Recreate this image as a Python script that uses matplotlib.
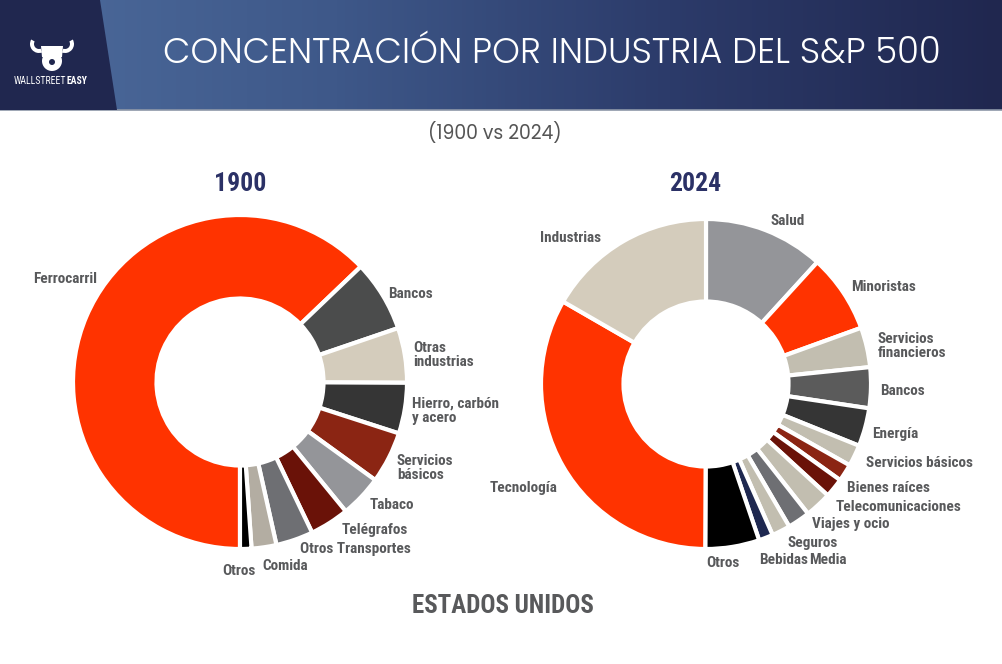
import numpy as np
import matplotlib
matplotlib.use("Agg")
import matplotlib.pyplot as plt
from matplotlib.patches import Polygon, Circle, Wedge
from matplotlib.colors import LinearSegmentedColormap

# ---------------- data ----------------
labels_1900 = ["Ferrocarril", "Bancos", "Otras\nindustrias", "Hierro, carbón\ny acero",
               "Servicios\nbásicos", "Tabaco", "Telégrafos", "Otros Transportes",
               "Comida", "Otros"]
values_1900 = [62.8, 6.9, 5.3, 4.9, 5.0, 4.1, 3.8, 3.6, 2.4, 1.1]

labels_2024 = ["Salud", "Minoristas", "Servicios\nfinancieros", "Bancos", "Energía",
               "Servicios básicos", "Bienes raíces", "Telecomunicaciones",
               "Viajes y ocio", "Seguros", "Bebidas", "Media", "Otros",
               "Tecnología", "Industrias"]
values_2024 = [11.8, 7.7, 3.9, 4.0, 3.75, 2.1, 1.7, 1.9, 2.6, 2.2, 1.8, 1.4, 5.3, 33.3, 16.7]

title = "CONCENTRACIÓN POR INDUSTRIA DEL S&P 500"
subtitle = "(1900 vs 2024)"
footer = "ESTADOS UNIDOS"
years = ["1900", "2024"]

# ---------------- styles ----------------
RED = "#ff3300"
colors_1900 = [RED, "#4b4c4c", "#d4ccbc", "#353535", "#8b2513", "#949599",
               "#6a1208", "#6e6f73", "#b3ada2", "#000000"]
colors_2024 = ["#949599", RED, "#c2beb0", "#5b5b5b", "#353535", "#c2beb0",
               "#8b2513", "#6a1208", "#c2beb0", "#6e6f73", "#c2beb0", "#1e2850",
               "#000000", RED, "#d4ccbc"]

COND = ["Roboto Condensed", "DejaVu Sans"]
GEO = ["Poppins", "Lato", "DejaVu Sans"]

W, H = 1003, 664
fig = plt.figure(figsize=(W / 100, H / 100), dpi=100)
fig.patch.set_facecolor("white")
ax = fig.add_axes([0, 0, 1, 1])


def Y(y):  # top-based pixel -> data y
    return H - y


# header gradient
grad = np.linspace(0, 1, 256)[None, :]
hcmap = LinearSegmentedColormap.from_list("h", ["#4d6b9c", "#3e5889", "#2c3b6a", "#20274f"])
ax.imshow(grad, extent=(0, W, Y(110), Y(0)), aspect="auto", cmap=hcmap, zorder=0)
ax.plot([0, W], [Y(110), Y(110)], color="#8d97a8", lw=1.2, zorder=1)
ax.add_patch(Polygon([(0, Y(0)), (100, Y(0)), (117, Y(110)), (0, Y(110))],
                     closed=True, facecolor="#20274f", edgecolor="none", zorder=1))

# logo
ax.add_patch(Circle((52, Y(61)), 10, facecolor="white", edgecolor="none", zorder=2))
ax.add_patch(Polygon([(41, Y(46)), (63, Y(46)), (62, Y(57)), (42, Y(57))],
                     facecolor="white", edgecolor="none", zorder=2))
ax.add_patch(Wedge((39, Y(44)), 9, 150, 290, width=4, facecolor="white", zorder=2))
ax.add_patch(Wedge((65, Y(44)), 9, 250, 30, width=4, facecolor="white", zorder=2))
ax.add_patch(Circle((52, Y(62)), 3, facecolor="#20274f", edgecolor="none", zorder=3))
t1 = ax.text(14, Y(81), "WALLSTREET", color="white", fontsize=7, family=COND,
             ha="left", va="center", zorder=3)
ax.annotate("EASY", xy=(1, 0.5), xycoords=t1, color="white", fontsize=7, family=COND,
            weight="bold", ha="left", va="center", zorder=3)

# titles
ax.text(552, Y(54), title, color="white", fontsize=25.5, family=GEO, weight=300,
        ha="center", va="center", zorder=3)
ax.text(495, Y(133), subtitle, color="#555555", fontsize=13.5, family=GEO, weight=400,
        ha="center", va="center")
ax.text(240, Y(184), years[0], color="#2b3166", fontsize=18.5, family=COND, weight="bold",
        ha="center", va="center")
ax.text(695, Y(184), years[1], color="#2b3166", fontsize=18.5, family=COND, weight="bold",
        ha="center", va="center")
ax.text(503, Y(606), footer, color="#58595b", fontsize=18, family=COND, weight="bold",
        ha="center", va="center")

# donuts
R1, R2 = 167, 165
ax.pie(values_1900, colors=colors_1900, startangle=-90, counterclock=False,
       center=(240, Y(382)), radius=R1, frame=True,
       wedgeprops=dict(width=R1 * 0.5, edgecolor="white", linewidth=3))
ax.pie(values_2024, colors=colors_2024, startangle=90, counterclock=False,
       center=(706, Y(384)), radius=R2, frame=True,
       wedgeprops=dict(width=R2 * 0.5, edgecolor="white", linewidth=3))
ax.set_xlim(0, W)
ax.set_ylim(0, H)
ax.set_aspect("auto")
ax.axis("off")

LBL = dict(color="#58595b", fontsize=11, family=COND, weight="bold", va="center",
           linespacing=1.0)
pos_1900 = [(33, 279), (388, 294), (413, 355), (412, 411), (397, 468), (370, 505),
            (342, 530), (300, 549), (262, 566), (222, 571)]
for lab, (x, y) in zip(labels_1900, pos_1900):
    ax.text(x, Y(y), lab, ha="left", **LBL)

pos_2024 = {"Salud": (771, 221), "Industrias": (540, 238), "Minoristas": (851, 287),
            "Servicios\nfinancieros": (878, 346), "Bancos": (880, 391), "Energía": (872, 434),
            "Servicios básicos": (866, 463), "Bienes raíces": (847, 488),
            "Telecomunicaciones": (836, 507), "Viajes y ocio": (812, 524),
            "Seguros": (788, 543), "Bebidas": (759, 560), "Media": (809, 560),
            "Otros": (706, 563), "Tecnología": (490, 488)}
for lab in labels_2024:
    x, y = pos_2024[lab]
    ax.text(x, Y(y), lab, ha="left", **LBL)

fig.savefig("out.png", dpi=100, facecolor="white")
